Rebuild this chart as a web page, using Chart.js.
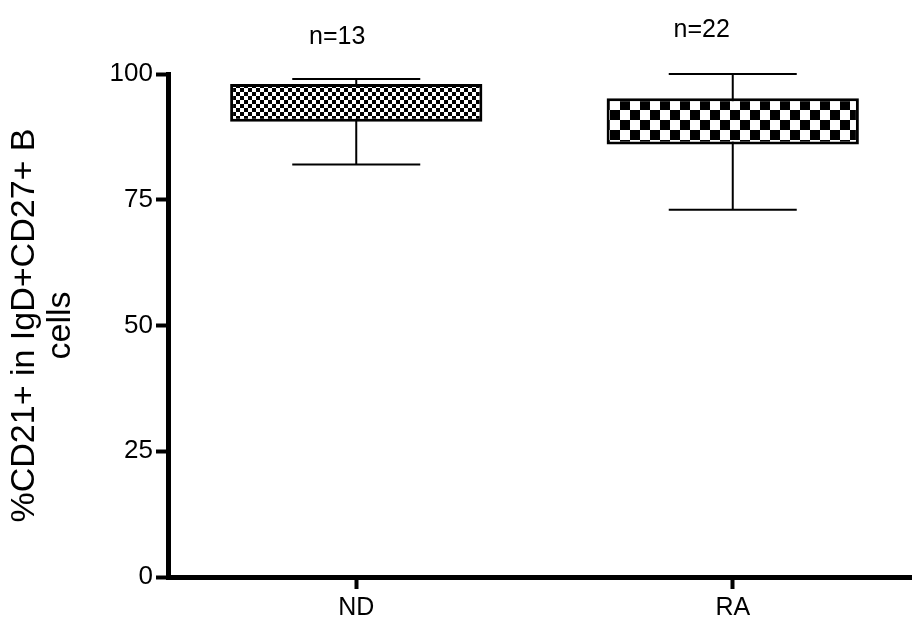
<!DOCTYPE html>
<html>
<head>
<meta charset="utf-8">
<script src="https://cdn.jsdelivr.net/npm/chart.js@4"></script>
<style>
  html, body { margin: 0; padding: 0; overflow: hidden; background: #fff; }
</style>
</head>
<body>
<canvas id="box" width="930" height="617"></canvas>
<script>
// box plot values (min / q1 / q3 / max)
const groups = ["ND", "RA"];
const nLabels = ["n=13", "n=22"];
const mins = [82, 73];
const q1 = [90.5, 86];
const q3 = [98, 95.2];
const maxs = [99, 100];
const yTicks = [0, 25, 50, 75, 100];

const fam = "'Liberation Sans', Arial, sans-serif";
let cv = document.getElementById("box");
let ctx = cv.getContext("2d");

function checker(size) {
    let c = document.createElement("canvas");
    c.width = c.height = size * 2;
    let x = c.getContext("2d");
    x.fillStyle = "#fff";
    x.fillRect(0, 0, size * 2, size * 2);
    x.fillStyle = "#000";
    x.fillRect(0, 0, size, size);
    x.fillRect(size, size, size, size);
    return ctx.createPattern(c, "repeat");
}
let fills = [checker(4), checker(10)];

// whiskers go behind the boxes, n= labels on top
const whiskers = {
    id: "whiskers",
    beforeDatasetsDraw(chart) {
        const { ctx, scales: { x, y } } = chart;
        let step = x.getPixelForValue(1) - x.getPixelForValue(0);
        let half = step * 0.17;
        ctx.save();
        ctx.strokeStyle = "#000";
        ctx.lineWidth = 2;
        groups.forEach((g, i) => {
            let cx = x.getPixelForValue(i);
            let top = y.getPixelForValue(maxs[i]);
            let bot = y.getPixelForValue(mins[i]);
            ctx.beginPath();
            ctx.moveTo(cx, top); ctx.lineTo(cx, bot);
            ctx.moveTo(cx - half, top); ctx.lineTo(cx + half, top);
            ctx.moveTo(cx - half, bot); ctx.lineTo(cx + half, bot);
            ctx.stroke();
        });
        ctx.restore();
    },
    afterDraw(chart) {
        const { ctx, scales: { x } } = chart;
        let offs = [[-19, 37], [-31, 30]];
        ctx.save();
        ctx.fillStyle = "#000";
        ctx.font = "25px " + fam;
        ctx.textAlign = "center";
        ctx.textBaseline = "middle";
        nLabels.forEach((t, i) => {
            ctx.fillText(t, x.getPixelForValue(i) + offs[i][0], offs[i][1]);
        });
        ctx.restore();
    }
};

let chart = new Chart(cv, {
    type: "bar",
    data: {
        labels: groups,
        datasets: [{
            data: groups.map((g, i) => [q1[i], q3[i]]),
            backgroundColor: fills,
            borderColor: "#000",
            borderWidth: 3,
            borderSkipped: false,
            barPercentage: 0.67,
            categoryPercentage: 1
        }]
    },
    options: {
        responsive: false,
        animation: false,
        devicePixelRatio: 1,
        layout: { padding: { left: 0, top: 74, right: 9, bottom: 0 } },
        plugins: { legend: { display: false }, tooltip: { enabled: false } },
        scales: {
            x: {
                afterFit: (s) => { s.height = 40; },
                grid: { drawOnChartArea: false, offset: false, tickLength: 12, tickWidth: 4, tickColor: "#000" },
                border: { color: "#000", width: 5 },
                ticks: { color: "#000", padding: 4, font: { family: fam, size: 25 } }
            },
            y: {
                min: 0,
                max: 100,
                afterFit: (s) => { s.width = 168; },
                afterBuildTicks: (s) => { s.ticks = yTicks.map(v => ({ value: v })); },
                grid: { drawOnChartArea: false, tickLength: 12, tickWidth: 4, tickColor: "#000" },
                border: { color: "#000", width: 5 },
                ticks: { color: "#000", padding: 3, font: { family: fam, size: 26 } },
                title: {
                    display: true,
                    text: ["%CD21+ in IgD+CD27+ B", "cells"],
                    color: "#000",
                    padding: { top: 7, bottom: 0 },
                    font: { family: fam, size: 34, lineHeight: 1.05 }
                }
            }
        }
    },
    plugins: [whiskers]
});
</script>
</body>
</html>
